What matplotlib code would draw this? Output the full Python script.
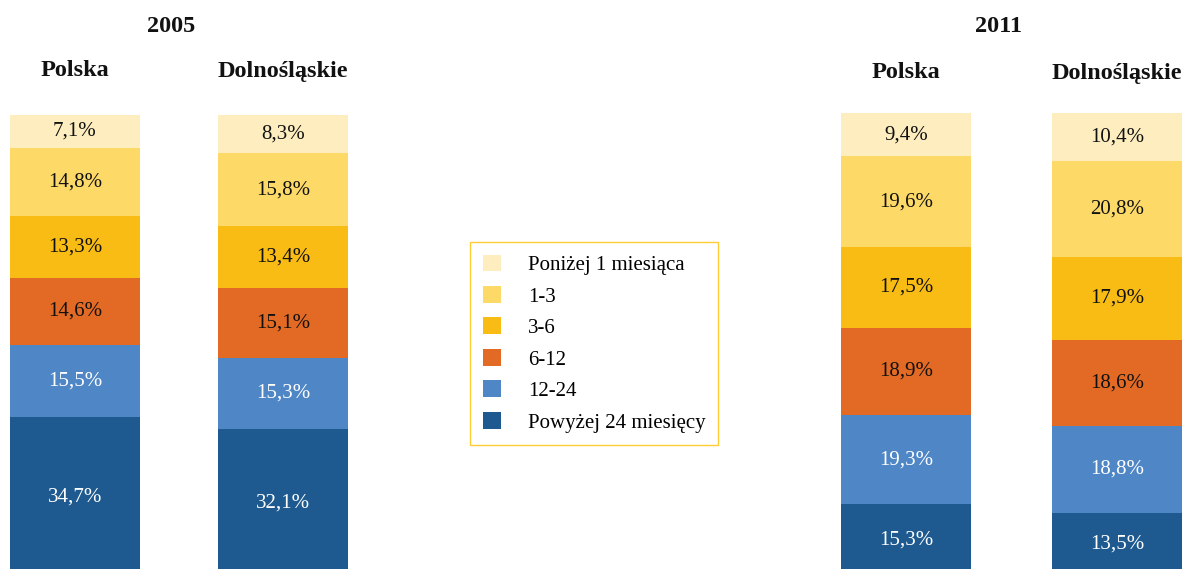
import matplotlib
matplotlib.use("Agg")
import matplotlib.pyplot as plt
from matplotlib.patches import Patch
import numpy as np

plt.rcParams['font.family'] = ['Liberation Serif', 'DejaVu Serif']

categories = ["Poniżej 1 miesiąca", "1-3", "3-6", "6-12", "12-24", "Powyżej 24 miesięcy"]
regions = ["Polska", "Dolnośląskie"]
years = ["2005", "2011"]
vals_2005_polska = [7.1, 14.8, 13.3, 14.6, 15.5, 34.7]
vals_2005_dolno = [8.3, 15.8, 13.4, 15.1, 15.3, 32.1]
vals_2011_polska = [9.4, 19.6, 17.5, 18.9, 19.3, 15.3]
vals_2011_dolno = [10.4, 20.8, 17.9, 18.6, 18.8, 13.5]

colors = ["#FDEDBF", "#FDDA68", "#F9BC15", "#E26A24", "#4F86C6", "#1E5A8F"]
text_colors = ["#111111", "#111111", "#111111", "#111111", "white", "white"]

W, H = 1182, 569
fig = plt.figure(figsize=(W / 100, H / 100), dpi=100)


def draw_group(ax, series_list, spacing_px, bar_px):
    width = bar_px / spacing_px
    x = np.arange(len(series_list))
    for xi, series in zip(x, series_list):
        # stack from top: first category at top
        top = sum(series)
        for k, v in enumerate(series):
            bottom = top - v
            ax.bar(xi, v, bottom=bottom, width=width, color=colors[k], edgecolor='none')
            ax.text(xi, bottom + v / 2, f"{v:.1f}%".replace('.', ','), ha='center', va='center',
                    fontsize=15, color=text_colors[k])
            top = bottom
    ax.set_xlim(-width / 2, len(series_list) - 1 + width / 2)
    ax.set_ylim(0, 100)
    ax.axis('off')


ax1 = fig.add_axes([10 / W, 1 - 577 / H, 338 / W, 462 / H])
draw_group(ax1, [vals_2005_polska, vals_2005_dolno], 208, 130)
ax2 = fig.add_axes([841 / W, 1 - 575 / H, 341 / W, 462 / H])
draw_group(ax2, [vals_2011_polska, vals_2011_dolno], 211, 130)

hdr = dict(ha='center', va='center', fontsize=17.5, fontweight='bold', color='#111111')
fig.text(171 / W, 1 - 27 / H, years[0], **hdr)
fig.text(75 / W, 1 - 71 / H, regions[0], **hdr)
fig.text(283 / W, 1 - 71 / H, regions[1], **hdr)
fig.text(998 / W, 1 - 27 / H, years[1], **hdr)
fig.text(906 / W, 1 - 73 / H, regions[0], **hdr)
fig.text(1117 / W, 1 - 73 / H, regions[1], **hdr)

handles = [Patch(facecolor=c, edgecolor='none') for c in colors]
leg = fig.legend(handles, categories, loc='upper left',
                 bbox_to_anchor=(470 / W, 1 - 242 / H), bbox_transform=fig.transFigure,
                 borderaxespad=0, fontsize=15, frameon=True, fancybox=False,
                 handlelength=0.87, handleheight=0.87, handletextpad=1.3,
                 labelspacing=0.52, borderpad=0.6)
leg.get_frame().set_edgecolor('#FFC000')
leg.get_frame().set_linewidth(1.0)

fig.savefig("out.png", dpi=100)
